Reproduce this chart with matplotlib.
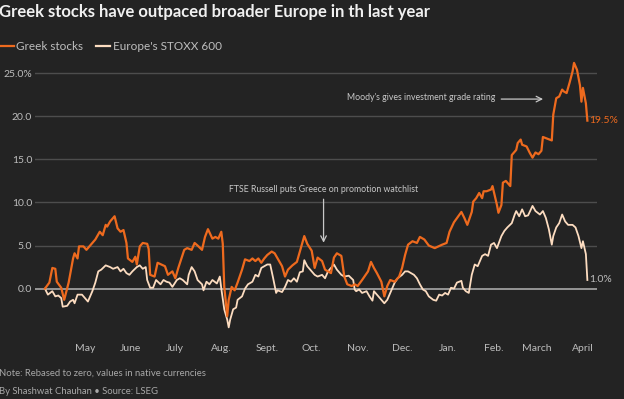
import numpy as np
import pandas as pd

import matplotlib
matplotlib.use("Agg")
import matplotlib.pyplot as plt

plt.rcParams["font.family"] = ["Lato", "DejaVu Sans"]

START = pd.Timestamp("2023-04-18")

# days since START, percent change (rebased to zero)
greek_days = [0, 3, 5, 7, 8, 11, 13, 16, 19, 20, 22, 23, 26, 28, 30, 34, 37, 39, 41, 42,
              44, 47, 49, 51, 53, 55, 56, 59, 61, 62, 64, 66, 69, 70, 71, 74, 76, 81, 83, 86,
              88, 90, 94, 96, 99, 101, 103, 106, 108, 110, 113, 115, 117, 119, 120, 121, 123, 124, 126, 128,
              130, 133, 135, 138, 140, 142, 144, 146, 148, 150, 153, 155, 157, 160, 162, 164, 167, 170, 173, 175,
              177, 180, 182, 184, 187, 189, 191, 193, 195, 197, 200, 202, 204, 207, 209, 211, 214, 218, 220, 222,
              224, 227, 229, 231, 233, 236, 239, 241, 243, 245, 248, 251, 253, 256, 259, 263, 268, 271, 273, 276,
              281, 283, 285, 288, 289, 291, 293, 295, 296, 298, 301, 302, 305, 306, 308, 309, 311, 314, 315, 318,
              319, 321, 322, 325, 327, 329, 331, 333, 335, 336, 339, 342, 343, 345, 347, 349, 350, 352, 354, 356,
              357, 359, 361, 362, 363, 365, 366]
greek_vals = [0.0, 0.7, 2.4, 2.3, 0.8, 0.1, -1.3, 0.7, 3.5, 4.1, 3.5, 4.9, 4.9, 4.5, 4.9, 5.7, 6.6, 6.2, 7.4, 7.2,
              7.8, 8.4, 7.0, 6.6, 6.8, 5.3, 3.5, 3.1, 3.7, 2.8, 4.9, 5.3, 5.2, 4.6, 1.6, 1.4, 3.0, 2.6, 1.6, 2.0,
              1.2, 2.4, 4.5, 4.7, 4.5, 5.3, 5.0, 4.5, 6.0, 6.9, 5.8, 6.0, 5.8, 6.6, 5.2, 0.2, -3.2, -1.3, 0.2, -0.2,
              0.7, 2.2, 3.4, 3.2, 3.5, 3.2, 3.5, 3.0, 3.5, 3.9, 4.3, 4.1, 3.5, 2.6, 1.4, 2.2, 2.7, 3.1, 4.9, 6.1,
              5.2, 4.4, 2.4, 3.6, 3.2, 2.2, 2.0, 1.8, 3.6, 4.1, 3.8, 1.4, 0.5, 0.3, 0.5, 0.3, 1.0, 2.0, 3.1, 2.4,
              1.8, 0.8, -0.9, 0.3, 1.0, 0.8, 1.4, 2.4, 3.9, 5.1, 5.5, 5.3, 6.0, 5.7, 5.0, 4.7, 5.1, 5.3, 6.6, 7.7,
              8.9, 8.2, 7.4, 8.9, 10.1, 10.5, 11.1, 10.5, 11.3, 11.3, 11.5, 11.9, 9.7, 8.8, 9.7, 12.3, 12.5, 11.9, 15.5, 16.1,
              16.9, 17.3, 16.7, 16.5, 15.8, 15.2, 15.8, 15.6, 16.0, 17.6, 17.4, 17.2, 20.2, 22.1, 22.3, 23.1, 22.9, 22.7, 23.9, 25.2,
              26.2, 25.4, 23.6, 21.7, 23.3, 21.5, 19.5]

stoxx_days = [0, 2, 5, 7, 9, 11, 12, 15, 17, 19, 20, 22, 25, 27, 29, 32, 34, 36, 38, 41,
              44, 46, 49, 51, 53, 55, 57, 59, 62, 64, 66, 68, 69, 71, 73, 75, 78, 80, 82, 84,
              86, 89, 91, 93, 96, 97, 99, 101, 103, 106, 107, 109, 111, 113, 116, 118, 119, 121, 123, 124,
              125, 127, 129, 130, 133, 135, 137, 140, 142, 144, 146, 150, 152, 154, 156, 157, 160, 162, 164, 166,
              168, 170, 172, 174, 175, 177, 180, 182, 184, 187, 189, 191, 193, 195, 197, 200, 202, 205, 208, 209,
              210, 212, 214, 217, 219, 221, 222, 224, 227, 229, 231, 234, 236, 238, 241, 243, 245, 247, 249, 251,
              253, 255, 257, 259, 262, 264, 266, 268, 270, 272, 274, 276, 278, 281, 282, 284, 286, 288, 290, 292,
              295, 297, 299, 301, 303, 305, 308, 310, 312, 315, 317, 318, 320, 322, 324, 326, 329, 331, 334, 336,
              338, 340, 342, 343, 345, 347, 349, 351, 353, 356, 358, 360, 362, 363, 365, 366]
stoxx_vals = [0.0, -0.7, -0.3, -0.9, -0.8, -1.1, -2.1, -2.0, -1.5, -1.3, -1.7, -0.7, -0.7, -1.1, -1.5, -0.3, 0.7, 2.0, 2.2, 2.7,
              2.5, 2.3, 2.5, 2.0, 2.3, 1.8, 1.6, 2.0, 2.5, 2.7, 2.3, 2.5, 1.0, 0.1, 0.1, 1.0, 0.5, 1.0, 0.8, 0.7,
              0.2, 1.0, 1.2, 1.0, 0.5, 1.6, 2.5, 2.0, 1.0, 0.5, -0.2, 0.8, 0.5, 1.0, 0.6, 1.4, 0.0, -2.4, -3.6, -4.5,
              -3.6, -2.4, -2.2, -1.3, -0.9, 0.0, 0.5, 0.8, 1.6, 1.4, 2.4, 2.8, 2.8, 1.2, -0.5, -0.2, -0.4, 0.2, 1.0, 0.8,
              1.2, 0.8, 1.9, 2.0, 3.3, 2.6, 2.0, 1.6, 1.4, 1.6, 1.2, 2.0, 2.4, 2.8, 2.2, 1.6, 1.4, 1.5, 1.0, -0.1,
              -0.3, -0.1, -0.5, -0.3, -0.9, -1.4, -0.3, -0.7, -1.3, -1.7, -1.3, -0.1, 0.7, 1.2, 1.6, 2.0, 2.0, 1.8, 1.6, 1.2,
              0.5, -0.1, -0.3, -0.9, -1.3, -1.4, -0.7, -0.8, -0.5, -0.7, 0.1, 0.0, 0.7, 0.9, 0.1, -0.3, -0.5, 1.6, 2.8, 2.6,
              3.8, 4.0, 3.8, 5.1, 5.3, 4.7, 6.1, 6.7, 7.1, 7.6, 8.6, 9.0, 8.4, 9.2, 8.4, 8.5, 9.6, 9.0, 8.6, 9.0,
              8.2, 6.9, 5.1, 6.1, 7.1, 7.6, 8.6, 7.8, 7.4, 7.4, 7.1, 6.1, 4.7, 5.5, 4.0, 1.0]

month_labels = ["May", "June", "July", "Aug.", "Sept.", "Oct.", "Nov.", "Dec.",
                "Jan.", "Feb.", "March", "April"]
y_ticks = [0, 5, 10, 15, 20, 25]
y_labels = ["0.0", "5.0", "10.0", "15.0", "20.0", "25.0%"]

BG = "#232323"
ORANGE = "#ee6a1e"
CREAM = "#fcdcc0"
GRID = "#4d4d4d"
TXT = "#bdbdbd"
ANN = "#c8c8c8"


def day_of(date_str):
    return (pd.Timestamp(date_str) - START).days


fig = plt.figure(figsize=(6.24, 3.99), dpi=100, facecolor=BG)
ax = fig.add_axes([35 / 624, 1 - 336 / 399, (597 - 35) / 624, (336 - 56) / 399])
ax.set_facecolor(BG)

ax.set_xlim(-6.7, 372.5)
ax.set_ylim(-5.5, 27)

for t in y_ticks[1:]:
    ax.axhline(t, color=GRID, lw=1.0, zorder=1)
ax.axhline(0, color="#b5b5b5", lw=1.1, zorder=2)

ax.plot(stoxx_days, stoxx_vals, color=CREAM, lw=1.3, zorder=3)
ax.plot(greek_days, greek_vals, color=ORANGE, lw=1.6, zorder=4)

for s in ax.spines.values():
    s.set_visible(False)
ax.set_yticks(y_ticks)
ax.set_yticklabels(y_labels)
ax.tick_params(axis="y", length=0, pad=2, labelsize=7.5, labelcolor=TXT)

tick_dates = pd.date_range("2023-05-15", periods=12, freq=pd.DateOffset(months=1))
ax.set_xticks([(d - START).days for d in tick_dates])
ax.set_xticklabels(month_labels)
ax.tick_params(axis="x", length=0, pad=6, labelsize=7.5, labelcolor=TXT)

# end labels
ax.text(greek_days[-1] + 1.5, greek_vals[-1], f"{greek_vals[-1]}%",
        color=ORANGE, fontsize=7.5, va="center", ha="left")
ax.text(stoxx_days[-1] + 1.5, stoxx_vals[-1], f"{stoxx_vals[-1]}%",
        color=TXT, fontsize=7.5, va="center", ha="left")

# annotations
ax.annotate("", xy=(day_of("2024-03-21"), 22.0), xytext=(day_of("2024-02-18"), 22.0),
            arrowprops=dict(arrowstyle="->", color=ANN, lw=0.9))
ax.text(day_of("2024-02-16"), 22.2, "Moody's gives investment grade rating",
        color=ANN, fontsize=6.3, ha="right", va="center")
ax.annotate("", xy=(day_of("2023-10-23"), 5.0), xytext=(day_of("2023-10-23"), 10.7),
            arrowprops=dict(arrowstyle="->", color=ANN, lw=0.9))
ax.text(day_of("2023-10-23"), 11.5, "FTSE Russell puts Greece on promotion watchlist",
        color=ANN, fontsize=6.3, ha="center", va="center")

# title, legend, footer
fig.text(-0.002, 1 - 12 / 399, "Greek stocks have outpaced broader Europe in th last year",
         color="#f0f0f0", fontsize=12, fontweight="bold", ha="left", va="center")
fig.lines.append(plt.Line2D([0, 14 / 624], [1 - 46 / 399] * 2, color=ORANGE, lw=1.6,
                            transform=fig.transFigure))
fig.text(16 / 624, 1 - 46 / 399, "Greek stocks", color=TXT, fontsize=8.5, ha="left", va="center")
fig.lines.append(plt.Line2D([96 / 624, 110 / 624], [1 - 46 / 399] * 2, color=CREAM, lw=1.6,
                            transform=fig.transFigure))
fig.text(113 / 624, 1 - 46 / 399, "Europe's STOXX 600", color=TXT, fontsize=8.5, ha="left", va="center")

fig.text(-0.002, 1 - 373 / 399, "Note: Rebased to zero, values in native currencies",
         color="#a8a8a8", fontsize=6.8, ha="left", va="center")
fig.text(-0.002, 1 - 391 / 399, "By Shashwat Chauhan \u2022 Source: LSEG",
         color="#a8a8a8", fontsize=6.8, ha="left", va="center")

fig.savefig("out.png", dpi=100, facecolor=BG)
